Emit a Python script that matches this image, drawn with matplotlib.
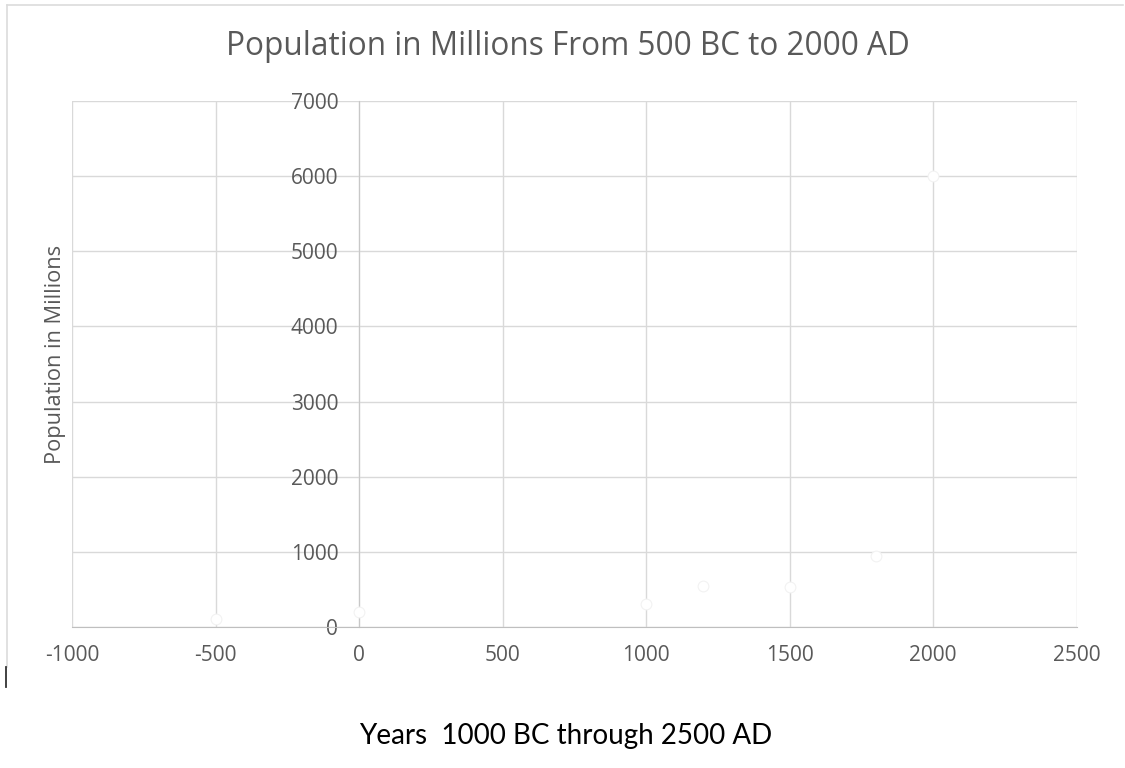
import matplotlib.pyplot as plt
from matplotlib.lines import Line2D

plt.rcParams["font.family"] = ["Open Sans", "DejaVu Sans"]
plt.rcParams["axes.unicode_minus"] = False

# data (years, population in millions)
years = [-500, 0, 1000, 1200, 1500, 1800, 2000]
population = [100, 200, 300, 550, 530, 950, 6000]

x_ticks = [-1000, -500, 0, 500, 1000, 1500, 2000, 2500]
y_ticks = [0, 1000, 2000, 3000, 4000, 5000, 6000, 7000]

TITLE = "Population in Millions From 500 BC to 2000 AD"
Y_LABEL = "Population in Millions"
X_LABEL = "Years  1000 BC through 2500 AD"

GRAY_TEXT = "#595959"
GRID = "#d9d9d9"

fig = plt.figure(figsize=(11.25, 7.68), dpi=100)
ax = fig.add_axes([0.064, 0.1836, 0.893, 0.6849])

ax.scatter(years, population, s=60, facecolor="white", edgecolor="#f2f2f2",
           linewidth=0.8, zorder=3)

ax.set_xlim(x_ticks[0], x_ticks[-1])
ax.set_ylim(y_ticks[0], y_ticks[-1])
ax.set_xticks(x_ticks)
ax.set_yticks(y_ticks)
ax.grid(True, color=GRID, linewidth=1.0, zorder=0)
ax.set_axisbelow(True)

for side in ("top", "right"):
    ax.spines[side].set_visible(False)
ax.spines["left"].set_position(("data", 0))
ax.spines["left"].set_color("#c8c8c8")
ax.spines["bottom"].set_color("#bfbfbf")
ax.tick_params(length=0, labelsize=15, labelcolor=GRAY_TEXT)
ax.tick_params(axis="y", pad=15)
ax.tick_params(axis="x", pad=13)

fig.text(0.505, 0.939, TITLE, ha="center", va="center", fontsize=22.7,
         color=GRAY_TEXT)
fig.text(0.049, 0.539, Y_LABEL, ha="center", va="center", rotation=90,
         fontsize=15.7, color=GRAY_TEXT)
fig.text(0.503, 0.042, X_LABEL, ha="center", va="center", fontsize=20,
         color="black", family=["Lato", "DejaVu Sans"])

# chart-area frame edges visible in the reference, plus the stray cursor mark
fig.add_artist(Line2D([7 / 1125, 1123 / 1125], [1 - 5 / 768] * 2,
                      color="#dcdcdc", linewidth=1.2))
fig.add_artist(Line2D([7 / 1125] * 2, [1 - 5 / 768, 1 - 667 / 768],
                      color="#dcdcdc", linewidth=1.2))
fig.add_artist(Line2D([6 / 1125] * 2, [1 - 667 / 768, 1 - 687 / 768],
                      color="#333333", linewidth=1.3))

fig.savefig("out.png", dpi=100)
